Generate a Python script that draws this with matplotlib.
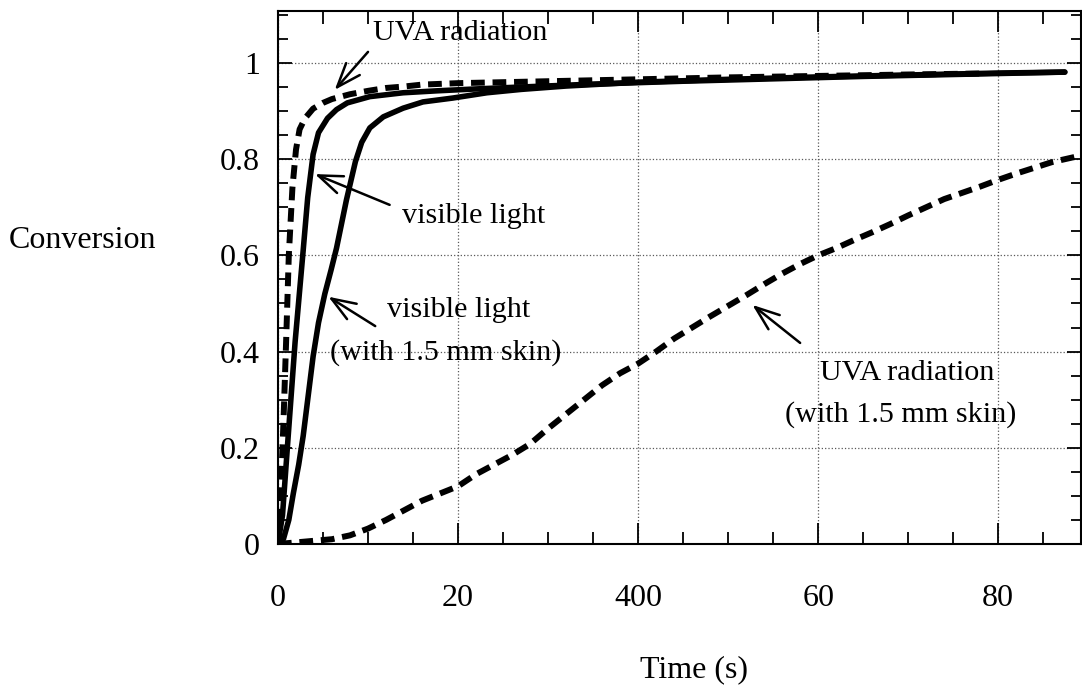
import matplotlib.pyplot as plt
from matplotlib.ticker import MultipleLocator

plt.rcParams['font.family'] = ['Liberation Serif', 'DejaVu Serif']

# conversion curves, time in s
uva_t = [0, 0.3, 0.6, 0.9, 1.2, 1.6, 2.0, 2.4, 3.0, 3.9, 5, 6, 8, 10, 12, 14, 16,
         20, 25, 30, 40, 50, 60, 70, 78]
uva_c = [0, 0.10, 0.25, 0.42, 0.60, 0.74, 0.82, 0.862, 0.885, 0.905, 0.917, 0.925,
         0.935, 0.942, 0.948, 0.951, 0.955, 0.958, 0.960, 0.962, 0.966, 0.970,
         0.973, 0.976, 0.978]

vis_t = [0, 0.5, 1.1, 1.9, 2.8, 3.3, 3.9, 4.5, 5.5, 6.5, 7.7, 10.2, 13.9, 17.6, 22,
         27, 35, 45, 55, 65, 75, 87.4]
vis_c = [0, 0.06, 0.216, 0.42, 0.611, 0.72, 0.81, 0.855, 0.885, 0.903, 0.917, 0.93,
         0.938, 0.942, 0.946, 0.95, 0.956, 0.962, 0.967, 0.972, 0.976, 0.981]

skin_t = [0, 0.6, 1.2, 1.7, 2.3, 2.8, 3.3, 3.9, 4.5, 5.2, 5.9, 6.5, 7.6, 8.6, 9.3,
          10.2, 11.7, 13.9, 16.1, 19.4, 23.2, 27, 32, 40, 50, 60, 70, 80, 87.4]
skin_c = [0, 0.01, 0.05, 0.105, 0.165, 0.225, 0.30, 0.39, 0.46, 0.52, 0.57, 0.615,
          0.715, 0.795, 0.835, 0.865, 0.888, 0.906, 0.919, 0.927, 0.938, 0.945,
          0.952, 0.96, 0.966, 0.971, 0.975, 0.979, 0.981]

uvskin_t = [0, 3, 6, 8, 10, 12, 14, 16, 18, 20, 22, 24, 26, 28, 30, 32, 34, 36, 38,
            40, 42, 44, 46, 48, 50, 52, 54, 56, 58, 60, 62, 64, 66, 68, 70, 72, 74,
            76, 78, 80, 82, 84, 86, 88.6]
uvskin_c = [0, 0.005, 0.01, 0.018, 0.032, 0.05, 0.07, 0.09, 0.105, 0.12, 0.145,
            0.165, 0.185, 0.208, 0.24, 0.27, 0.30, 0.33, 0.355, 0.375, 0.40, 0.427,
            0.45, 0.473, 0.495, 0.517, 0.54, 0.562, 0.582, 0.60, 0.615, 0.632, 0.648,
            0.665, 0.683, 0.70, 0.717, 0.73, 0.743, 0.757, 0.77, 0.782, 0.794, 0.805]

xtick_pos = [0, 20, 40, 60, 80]
xtick_lab = ['0', '20', '400', '60', '80']
ytick_pos = [0, 0.2, 0.4, 0.6, 0.8, 1.0]
ytick_lab = ['0', '0.2', '0.4', '0.6', '0.8', '1']

fig = plt.figure(figsize=(10.82, 6.90), dpi=100)
ax = fig.add_axes([278/1082, 146/690, 803/1082, 533/690])

dash = (0, (2.3, 1.3))
ax.plot(uvskin_t, uvskin_c, color='k', lw=4.3, linestyle=dash)
ax.plot(skin_t, skin_c, color='k', lw=4.0, solid_capstyle='round',
        solid_joinstyle='round')
ax.plot(vis_t, vis_c, color='k', lw=4.0, solid_capstyle='round',
        solid_joinstyle='round')
ax.plot(uva_t, uva_c, color='k', lw=4.3, linestyle=dash)

ax.set_xlim(0, 89.2)
ax.set_ylim(0, 1.108)
ax.set_xticks(xtick_pos, labels=xtick_lab)
ax.set_yticks(ytick_pos, labels=ytick_lab)
ax.xaxis.set_minor_locator(MultipleLocator(5))
ax.yaxis.set_minor_locator(MultipleLocator(0.05))
ax.tick_params(axis='both', which='both', direction='in', top=True, right=True,
               width=1.3, labelsize=23)
ax.tick_params(axis='x', which='major', length=15, pad=29)
ax.tick_params(axis='x', which='minor', length=9)
ax.tick_params(axis='y', which='major', length=10, pad=13)
ax.tick_params(axis='y', which='minor', length=7)
for sp in ax.spines.values():
    sp.set_linewidth(1.5)

ax.grid(True, which='major', color='0.35', linestyle=':', linewidth=0.9)

ax.set_ylabel('Conversion', fontsize=23, rotation=0, ha='center', va='center')
ax.yaxis.set_label_coords(-0.243, 0.570)
ax.set_xlabel('Time (s)', fontsize=23, va='center')
ax.xaxis.set_label_coords(0.518, -0.236)

fs = 21.7
arrow = dict(arrowstyle='->,head_length=0.8,head_width=0.3', color='k', lw=1.8,
             shrinkA=0, shrinkB=0, mutation_scale=fs)
ax.annotate('', xy=(6.3, 0.944), xytext=(10.0, 1.023), arrowprops=arrow)
ax.text(20.2, 1.048, 'UVA radiation', fontsize=fs, ha='center', va='baseline')

ax.annotate('', xy=(4.1, 0.769), xytext=(12.4, 0.705), arrowprops=arrow)
ax.text(21.7, 0.667, 'visible light', fontsize=fs, ha='center', va='baseline')

ax.annotate('', xy=(5.6, 0.514), xytext=(10.8, 0.453), arrowprops=arrow)
ax.text(20.1, 0.472, 'visible light', fontsize=fs, ha='center', va='baseline')
ax.text(18.6, 0.383, '(with 1.5 mm skin)', fontsize=fs, ha='center', va='baseline')

ax.annotate('', xy=(52.7, 0.497), xytext=(58.0, 0.418), arrowprops=arrow)
ax.text(69.9, 0.341, 'UVA radiation', fontsize=fs, ha='center', va='baseline')
ax.text(69.2, 0.254, '(with 1.5 mm skin)', fontsize=fs, ha='center', va='baseline')

fig.savefig('out.png', dpi=100)
